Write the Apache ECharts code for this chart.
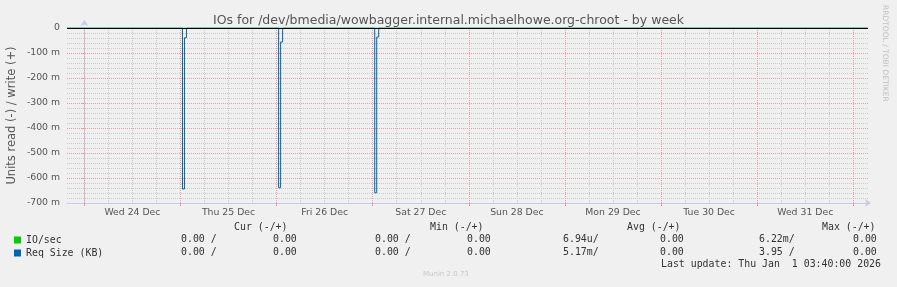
<!DOCTYPE html>
<html>
<head>
<meta charset="utf-8">
<script src="https://cdn.jsdelivr.net/npm/echarts@6/dist/echarts.min.js"></script>
<style>
html,body{margin:0;padding:0;background:#f0f0f0;}
#c{width:897px;height:287px;}
</style>
</head>
<body>
<div id="c"></div>
<script>
// ---- data (x = hours since Wed 24 Dec 00:00; values in milli-units) ----
const xMin = -4.333;   // Tue 23 Dec 19:40
const xMax = 195.667;  // Thu 1 Jan 03:40
const dayLabels = ['Wed 24 Dec','Thu 25 Dec','Fri 26 Dec','Sat 27 Dec','Sun 28 Dec','Mon 29 Dec','Tue 30 Dec','Wed 31 Dec'];
const yTicks = [0,-100,-200,-300,-400,-500,-600,-700];
const reqHours = [-4.333, 24.0, 24.5, 25.0, 25.5, 48.0, 48.5, 49.0, 49.5, 72.0, 72.5, 73.0, 73.5, 195.667];
const reqRead  = [0, 0, -644, -39, 0, 0, -639, -56, 0, 0, -659, -36, 0, 0];
const ioHours  = [-4.333, 195.667];
const ioRead   = [0, 0];
const seriesNames = ['IO/sec','Req Size (KB)'];
const seriesColors = ['#00cc00','#0066b3'];
const statHeaders = ['Cur (-/+)','Min (-/+)','Avg (-/+)','Max (-/+)'];
const ioStats  = ['0.00 /','0.00','0.00 /','0.00','6.94u/','0.00','6.22m/','0.00'];
const reqStats = ['0.00 /','0.00','0.00 /','0.00','5.17m/','0.00','3.95 /','0.00'];
const titleText = 'IOs for /dev/bmedia/wowbagger.internal.michaelhowe.org-chroot - by week';
const lastUpdate = 'Last update: Thu Jan  1 03:40:00 2026';
const muninVer = 'Munin 2.0.73';

// ---- layout helpers ----
const midnights = dayLabels.map((d,i)=>i*24).concat([192]);
const noons = dayLabels.map((d,i)=>i*24+12);
const minorV = [];
for (let h=6; h<xMax; h+=6) if (h%24!==0) minorV.push(h);

const chart = echarts.init(document.getElementById('c'), null, {renderer:'canvas'});
const mono = 'DejaVu Sans Mono';
const statX = [181,273,375,467,563,660,759,853];
const headX = [234,430,627,822];
const g = [];
statHeaders.forEach((t,i)=>g.push({type:'text',left:headX[i],top:222,style:{text:t,font:'9.9px '+mono,fill:'#333'}}));
ioStats.forEach((t,i)=>g.push({type:'text',left:statX[i],top:234,style:{text:t,font:'9.9px '+mono,fill:'#333'}}));
reqStats.forEach((t,i)=>g.push({type:'text',left:statX[i],top:247,style:{text:t,font:'9.9px '+mono,fill:'#333'}}));
g.push({type:'text',left:661,top:259,style:{text:lastUpdate,font:'9.9px '+mono,fill:'#333'}});
g.push({type:'text',left:423,top:271,style:{text:muninVer,font:'7px DejaVu Sans',fill:'#c8c8c8'}});
g.push({type:'text',x:885,y:5,rotation:-Math.PI/2,style:{text:'RRDTOOL / TOBI OETIKER',font:'7.5px DejaVu Sans',fill:'#c0c0c0',textAlign:'left',textVerticalAlign:'middle'}});

const dotRed = {color:'#e6a0a0',type:[1,1],width:1};
const dotGray = {color:'#cacaca',type:[1,1],width:1};

chart.setOption({
  animation:false,
  backgroundColor:'#f0f0f0',
  title:{text:titleText,left:'center',top:9,textStyle:{fontFamily:'DejaVu Sans',fontSize:12.5,fontWeight:'normal',color:'#555'}},
  legend:{orient:'vertical',left:14,top:234,padding:0,itemWidth:7,itemHeight:7,itemGap:1,icon:'rect',
    data:seriesNames,textStyle:{fontFamily:mono,fontSize:9.9,color:'#333',lineHeight:12},selectedMode:false},
  grid:{left:67,top:28,width:801,height:175,containLabel:false,outerBoundsMode:'none'},
  xAxis:[{type:'value',min:xMin,max:xMax,z:2,
    axisLine:{show:true,onZero:false,lineStyle:{color:'#c8c8f0'},symbol:['none','arrow'],symbolSize:[6,6],symbolOffset:[0,3]},
    axisTick:{show:true,customValues:midnights,length:3,inside:false,lineStyle:{color:'#e6a0a0'}},
    axisLabel:{customValues:noons,margin:5,fontFamily:'DejaVu Sans',fontSize:9.3,color:'#555',
      formatter:v=>dayLabels[Math.round((v-12)/24)]||''},
    splitLine:{show:true,lineStyle:dotRed}},
   {type:'value',min:xMin,max:xMax,position:'bottom',z:1,
    axisLine:{show:false},axisLabel:{show:false},
    axisTick:{show:false,customValues:minorV},
    splitLine:{show:true,lineStyle:dotGray}}],
  yAxis:{type:'value',min:-700,max:0,interval:100,name:'Units read (-) / write (+)',nameLocation:'middle',nameGap:49,
    nameMoveOverlap:false,
    nameTextStyle:{fontFamily:'DejaVu Sans',fontSize:11.5,color:'#555'},
    axisLine:{show:true,lineStyle:{color:'#c8c8f0'},symbol:['none','arrow'],symbolSize:[6,6],symbolOffset:[0,8]},
    axisTick:{show:true,length:3,lineStyle:{color:'#e6a0a0'}},
    axisLabel:{margin:7,fontFamily:'DejaVu Sans',fontSize:9.3,color:'#555',
      customValues:yTicks,formatter:v=>v===0?'0':v+' m'},
    splitLine:{show:true,lineStyle:dotRed},
    minorSplitLine:{show:true,lineStyle:dotGray},
    splitNumber:7},
  series:[
    {name:seriesNames[0],type:'line',z:1,xAxisIndex:0,data:ioHours.map((h,i)=>[h,ioRead[i]]),showSymbol:false,
      lineStyle:{color:seriesColors[0],width:1},itemStyle:{color:seriesColors[0]}},
    {name:seriesNames[1],type:'line',z:3,xAxisIndex:0,step:'end',data:reqHours.map((h,i)=>[h,reqRead[i]]),showSymbol:false,
      lineStyle:{color:seriesColors[1],width:1},itemStyle:{color:seriesColors[1]},
      markLine:{silent:true,symbol:'none',label:{show:false},animation:false,
        data:[{yAxis:0,lineStyle:{color:'#000',type:'solid',width:1}}]}}
  ],
  graphic:g
});
</script>
</body>
</html>
